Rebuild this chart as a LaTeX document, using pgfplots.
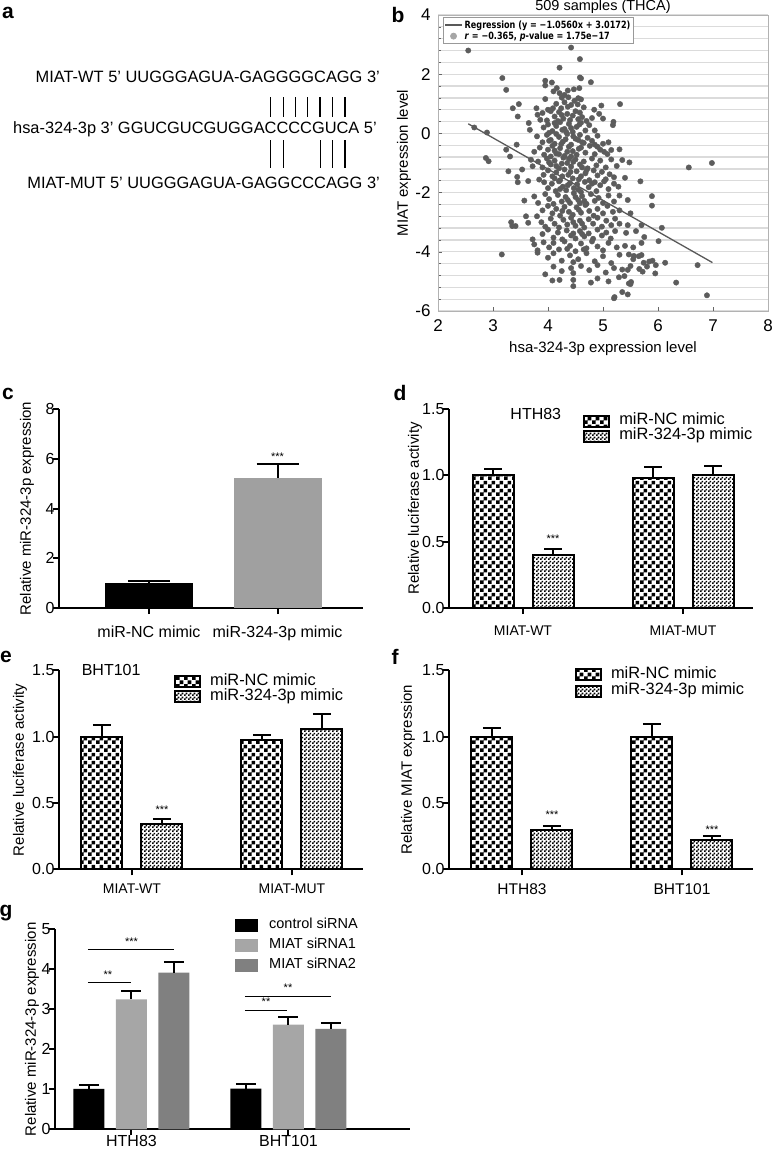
\documentclass[border=0pt]{standalone}
\usepackage{fontspec}
\setmainfont{Liberation Sans}
\newfontfamily\djv{DejaVu Sans}
\usepackage{pgfplots}
\pgfplotsset{compat=1.18}
\usetikzlibrary{patterns}
\newcommand{\fs}[1]{\fontsize{#1}{#1}\selectfont}
\pgfdeclarepatternformonly{bigcheck}{\pgfpointorigin}{\pgfqpoint{8pt}{8pt}}{\pgfqpoint{8pt}{8pt}}{%
  \pgfpathrectangle{\pgfpointorigin}{\pgfqpoint{4pt}{4pt}}%
  \pgfpathrectangle{\pgfqpoint{4pt}{4pt}}{\pgfqpoint{4pt}{4pt}}%
  \pgfusepath{fill}}
\pgfdeclarepatternformonly{smallcheck}{\pgfpointorigin}{\pgfqpoint{4pt}{4pt}}{\pgfqpoint{4pt}{4pt}}{%
  \pgfpathrectangle{\pgfpointorigin}{\pgfqpoint{2pt}{2pt}}%
  \pgfpathrectangle{\pgfqpoint{2pt}{2pt}}{\pgfqpoint{2pt}{2pt}}%
  \pgfusepath{fill}}
\definecolor{ptgray}{RGB}{92,92,92}
\definecolor{lgray}{RGB}{166,166,166}
\definecolor{dgray}{RGB}{128,128,128}
\definecolor{cgray}{RGB}{160,160,160}
\pgfplotsset{
  gp/.style={
    scale only axis, width=304pt, height=199pt,
    axis x line*=bottom, axis y line*=left,
    axis line style={line width=2pt, black},
    tick style={line width=2pt, black},
    major tick length=6pt, tick align=outside,
    xtick pos=bottom, ytick pos=left,
    ymin=0, enlargelimits=false, ybar, clip=false,
    /pgf/number format/assume math mode=true,
    yticklabel style={font=\fs{16}, xshift=5pt},
    xticklabel style={font=\fs{14}},
    label style={font=\fs{15}},
    error bars/error bar style={line width=2pt, black},
    error bars/error mark options={black, line width=2pt, mark size=9pt, rotate=90},
  },
  patlegend/.style={legend image code/.code={\draw[##1] (0pt,-5.5pt) rectangle (25pt,5.5pt); \path (34pt,0pt);}},
  glegend/.style={legend image code/.code={\fill[##1] (0pt,-6.5pt) rectangle (23pt,6.5pt); \path (34pt,0pt);}},
  ebp/.style={error bars/y dir=plus, error bars/y explicit},
  nc/.style={draw=black, line width=2pt, pattern=bigcheck, pattern color=black, patlegend, ebp},
  mm/.style={draw=black, line width=2pt, pattern=smallcheck, pattern color=black, patlegend, ebp},
}
\begin{document}
\begin{tikzpicture}
\path[use as bounding box] (0pt,0pt) rectangle (775pt,-1152pt);
% panel letters
\node[font=\bfseries\fs{21}] at (8pt,-13pt) {a};
\node[font=\bfseries\fs{21}] at (398pt,-15pt) {b};
\node[font=\bfseries\fs{21}] at (8pt,-394pt) {c};
\node[font=\bfseries\fs{21}] at (400pt,-393pt) {d};
\node[font=\bfseries\fs{21}] at (6pt,-657pt) {e};
\node[font=\bfseries\fs{21}] at (395pt,-657pt) {f};
\node[font=\bfseries\fs{21}] at (6pt,-913pt) {g};
% panel a
\node[font=\fs{16.4}, anchor=base east, inner sep=0pt] at (380pt,-82.9pt) {MIAT-WT 5’ UUGGGAGUA-GAGGGGCAGG 3’};
\node[font=\fs{16.4}, anchor=base east, inner sep=0pt] at (377pt,-133.9pt) {hsa-324-3p 3’ GGUCGUCGUGGACCCCGUCA 5’};
\node[font=\fs{16.4}, anchor=base east, inner sep=0pt] at (380pt,-188.9pt) {MIAT-MUT 5’ UUGGGAGUA-GAGGCCCAGG 3’};
\foreach \xx in {270.7,283.3,295.7,307.7,320,332.7,345} {\draw[line width=1.1pt] (\xx pt,-97pt) -- (\xx pt,-117pt);}
\foreach \xx in {270.7,283.3,320.7,332.7,345} {\draw[line width=1.1pt] (\xx pt,-140pt) -- (\xx pt,-168pt);}

% panel b
\begin{axis}[at={(438pt,-311pt)}, anchor=south west, scale only axis, width=330pt, height=296pt,
  xmin=2, xmax=8, ymin=-6, ymax=4, xtick={2,3,4,5,6,7,8}, ytick={-6,-4,-2,0,2,4},
  minor y tick num=4, ymajorgrids, yminorgrids,
  major grid style={line width=1.3pt, black!14}, minor grid style={line width=1.3pt, black!14},
  axis line style={black!30, line width=0.9pt},
  tick style={black!60, line width=0.6pt}, major tick length=4pt, minor tick length=3pt,
  xtick pos=bottom, ytick pos=left, tick align=inside,
  /pgf/number format/assume math mode=true,
  ticklabel style={font=\fs{17}},
  xticklabel style={yshift=-5pt}, yticklabel style={xshift=-4pt},
  every axis title shift=0pt,
  title={509 samples (THCA)}, title style={font=\fs{14.5}, inner sep=0pt, yshift=1pt},
  xlabel={hsa-324-3p expression level}, ylabel={MIAT expression level},
  label style={font=\fs{15}},
  xlabel style={at={(axis description cs:0.5,-0.128)}, anchor=center},
  ylabel style={at={(axis description cs:-0.103,0.5)}, anchor=center},
  legend style={at={(0.015,0.993)}, anchor=north west, draw=black!40, line width=0.8pt, fill=white,
    inner sep=1pt, row sep=-2pt, font=\djv\bfseries\fs{10}, legend cell align=left},
]
\addplot[only marks, mark=*, mark size=2.7pt, color=ptgray, forget plot] coordinates {
(2.55,2.80) (4.42,2.90) (4.58,2.51) (4.21,2.22) (6.56,-1.15) (6.98,-1.00)
(3.95,1.78) (4.07,1.72) (4.58,1.89) (4.60,1.86) (4.78,1.73) (3.17,1.87) (3.95,1.62)
(3.24,1.47) (3.95,1.16) (4.16,1.53) (4.21,1.36) (4.36,1.45) (4.47,1.49) (4.57,1.53) (4.25,1.21) (4.37,1.22) (4.55,1.19) (4.30,1.30) (4.10,1.42)
(3.36,0.85) (3.47,0.99) (3.79,0.85) (4.00,0.80) (4.09,0.85) (4.24,0.85) (4.42,0.96) (4.54,0.98) (4.84,0.80) (4.97,0.94) (5.31,0.99) (4.30,1.05) (4.65,0.88) (4.15,1.00) (4.48,1.10) (4.60,1.15) (4.36,0.90)
(3.45,0.57) (3.81,0.63) (3.86,0.46) (3.90,0.69) (3.98,0.44) (4.12,0.57) (4.20,0.72) (4.28,0.50) (4.35,0.66) (4.40,0.45) (4.50,0.75) (4.62,0.55) (4.70,0.42) (4.93,0.66) (4.45,0.60) (4.55,0.48) (4.05,0.75) (4.25,0.62) (5.00,0.50) (4.18,0.42) (4.58,0.70) (4.80,0.52)
(2.66,0.20) (2.89,0.03) (3.65,0.35) (3.67,0.12) (4.00,0.30) (4.08,0.08) (4.15,0.25) (4.22,0.38) (4.30,0.15) (4.38,0.32) (4.45,0.05) (4.52,0.22) (4.60,0.36) (4.68,0.10) (4.75,0.28) (5.19,0.39) (5.18,0.28) (4.85,0.10) (3.92,0.20) (4.33,0.05) (4.57,0.30) (4.12,0.35) (4.42,0.18) (4.02,0.02) (4.26,0.12)
(3.43,-0.38) (3.80,-0.10) (3.90,-0.30) (3.98,-0.05) (4.05,-0.22) (4.12,-0.35) (4.20,-0.12) (4.27,-0.28) (4.35,-0.02) (4.42,-0.38) (4.50,-0.18) (4.58,-0.05) (4.65,-0.32) (4.72,-0.15) (4.80,-0.25) (4.90,-0.08) (5.00,-0.35) (5.10,-0.30) (4.02,-0.25) (4.32,-0.20) (4.62,-0.30) (4.46,-0.10) (4.15,-0.02) (4.85,-0.38) (4.24,-0.36) (4.55,-0.22)
(3.24,-0.55) (3.31,-0.78) (3.75,-0.62) (3.85,-0.48) (3.93,-0.72) (4.00,-0.55) (4.08,-0.42) (4.15,-0.68) (4.22,-0.50) (4.30,-0.76) (4.38,-0.45) (4.45,-0.60) (4.52,-0.72) (4.60,-0.48) (4.68,-0.65) (4.76,-0.42) (4.85,-0.70) (4.95,-0.55) (5.02,-0.62) (5.15,-0.56) (5.30,-0.54) (5.08,-0.70) (4.20,-0.70) (4.12,-0.58) (4.42,-0.78) (4.56,-0.52) (4.35,-0.62) (4.05,-0.78) (4.90,-0.45)
(2.87,-0.83) (2.92,-0.94) (3.53,-1.22) (3.69,-0.89) (3.72,-1.11) (3.82,-0.95) (3.90,-1.15) (3.98,-0.85) (4.05,-1.05) (4.12,-0.92) (4.20,-1.18) (4.28,-0.82) (4.35,-1.00) (4.42,-1.12) (4.50,-0.88) (4.58,-1.05) (4.65,-0.95) (4.72,-1.18) (4.80,-0.85) (4.88,-1.08) (4.95,-0.92) (5.05,-1.15) (5.15,-0.88) (5.48,-0.98) (5.25,-1.10) (5.35,-0.90) (4.25,-1.02) (4.46,-0.96) (4.62,-1.15) (4.38,-0.86) (4.15,-1.10) (4.02,-0.98)
(3.28,-1.28) (3.44,-1.47) (3.84,-1.56) (4.00,-1.25) (4.08,-1.45) (4.15,-1.32) (4.22,-1.58) (4.30,-1.22) (4.37,-1.40) (4.45,-1.52) (4.52,-1.28) (4.60,-1.45) (4.68,-1.35) (4.75,-1.58) (4.83,-1.25) (4.90,-1.42) (4.98,-1.30) (5.05,-1.55) (5.12,-1.38) (5.20,-1.48) (5.40,-1.50) (4.26,-1.45) (4.41,-1.30) (4.56,-1.55) (4.12,-1.52) (4.70,-1.25) (3.92,-1.40)
(3.45,-1.65) (3.64,-1.61) (3.93,-1.65) (4.00,-1.85) (4.07,-1.70) (4.14,-1.95) (4.20,-1.62) (4.27,-1.80) (4.33,-1.92) (4.40,-1.68) (4.47,-1.85) (4.53,-1.72) (4.60,-1.98) (4.67,-1.64) (4.74,-1.82) (4.80,-1.70) (4.88,-1.95) (4.95,-1.75) (5.02,-1.62) (5.10,-1.88) (5.20,-1.70) (5.28,-1.80) (5.68,-1.62) (4.36,-1.75) (4.55,-1.90) (4.22,-1.88) (4.85,-1.65)
(3.57,-2.27) (3.75,-2.13) (3.82,-2.35) (3.95,-2.05) (4.02,-2.22) (4.10,-2.38) (4.18,-2.08) (4.25,-2.30) (4.32,-2.15) (4.40,-2.35) (4.47,-2.02) (4.55,-2.25) (4.62,-2.12) (4.70,-2.38) (4.78,-2.05) (4.85,-2.28) (4.92,-2.18) (5.00,-2.35) (5.10,-2.10) (5.20,-2.30) (5.30,-2.10) (5.45,-2.25) (5.89,-2.12) (4.36,-2.25) (4.58,-2.36) (4.50,-2.15) (4.66,-2.28)
(3.60,-2.80) (3.80,-2.80) (3.90,-2.60) (4.00,-2.45) (4.08,-2.70) (4.15,-2.55) (4.22,-2.78) (4.30,-2.48) (4.38,-2.65) (4.45,-2.75) (4.52,-2.50) (4.60,-2.68) (4.68,-2.42) (4.75,-2.62) (4.83,-2.78) (4.90,-2.55) (5.00,-2.70) (5.08,-2.45) (5.18,-2.65) (5.30,-2.60) (5.89,-2.44) (5.50,-2.70) (4.56,-2.58) (4.26,-2.62)
(3.33,-3.00) (3.35,-3.13) (3.41,-3.13) (3.64,-3.02) (3.88,-3.00) (3.95,-3.15) (4.05,-2.88) (4.12,-3.05) (4.20,-3.18) (4.28,-2.92) (4.35,-3.08) (4.42,-2.85) (4.50,-3.12) (4.58,-2.95) (4.66,-3.18) (4.74,-2.90) (4.82,-3.05) (4.90,-2.85) (4.98,-3.15) (5.06,-2.95) (5.15,-3.10) (5.22,-2.88) (5.30,-3.05) (5.45,-3.10) (6.07,-3.19) (5.70,-3.10) (4.62,-3.05) (4.46,-3.00)
(3.72,-3.58) (3.90,-3.40) (4.00,-3.25) (4.10,-3.52) (4.18,-3.35) (4.26,-3.58) (4.34,-3.28) (4.42,-3.45) (4.50,-3.55) (4.58,-3.30) (4.66,-3.48) (4.74,-3.38) (4.82,-3.56) (4.90,-3.25) (4.98,-3.45) (5.06,-3.35) (5.14,-3.55) (5.22,-3.30) (5.42,-3.36) (5.60,-3.30) (5.75,-3.50) (6.01,-3.64) (4.46,-3.38) (4.62,-3.40)
(3.75,-3.75) (3.81,-3.95) (3.92,-3.68) (4.02,-3.85) (4.10,-3.70) (4.20,-3.92) (4.30,-3.65) (4.40,-3.80) (4.50,-3.98) (4.60,-3.72) (4.70,-3.88) (4.80,-3.65) (4.90,-3.82) (5.00,-3.95) (5.10,-3.70) (5.25,-3.85) (5.40,-3.80) (5.55,-3.85) (5.70,-3.70) (4.35,-3.90) (4.65,-3.92)
(3.16,-4.09) (3.81,-4.03) (4.00,-4.20) (4.10,-4.05) (4.25,-4.30) (4.40,-4.12) (4.55,-4.25) (4.70,-4.05) (4.85,-4.32) (5.00,-4.15) (5.15,-4.38) (5.30,-4.10) (5.47,-4.09) (5.55,-4.25) (5.65,-4.15) (5.74,-4.37) (5.90,-4.30) (6.13,-4.37) (4.46,-4.35) (5.70,-4.11) (5.56,-4.14)
(3.95,-4.76) (4.10,-4.50) (4.25,-4.65) (4.42,-4.55) (4.46,-4.72) (4.60,-4.48) (4.75,-4.62) (4.90,-4.45) (5.05,-4.70) (5.20,-4.55) (5.35,-4.60) (5.50,-4.48) (5.66,-4.58) (5.80,-4.50) (5.96,-4.45) (6.72,-4.45) (5.84,-4.33) (5.72,-4.67) (5.45,-4.61)
(4.08,-4.97) (4.21,-4.95) (4.46,-5.16) (4.78,-5.04) (4.90,-4.90) (5.10,-5.00) (5.39,-4.82) (5.47,-5.07) (5.51,-5.02) (5.95,-4.73) (6.33,-5.04) (4.46,-4.95) (5.29,-4.86) (5.50,-5.09)
(5.21,-5.53) (5.35,-5.36) (5.45,-5.44) (6.89,-5.47) (5.20,-5.57)
};
\addplot[line width=1.3pt, color=black!65, forget plot] coordinates {(2.55,0.324) (6.99,-4.364)};
\addlegendimage{line width=1.3pt, color=black!65}
\addlegendentry{\scalebox{0.81}[1]{Regression (y = −1.0560x + 3.0172)}}
\addlegendimage{only marks, mark=*, mark size=3pt, color=black!35}
\addlegendentry{\scalebox{0.81}[1]{\textit{r} = −0.365, \textit{p}-value = 1.75e−17}}
\end{axis}

% panel c
\begin{axis}[gp, at={(59pt,-608pt)}, anchor=south west, xmin=-0.70, xmax=1.665, ymax=8,
  ytick={0,2,4,6,8}, xtick={0,1}, xticklabels={miR-NC mimic, miR-324-3p mimic},
  xticklabel style={font=\fs{16}, yshift=-8pt},
  ylabel={Relative miR-324-3p expression},
  ylabel style={at={(axis description cs:-0.105,0.5)}, anchor=center},
  error bars/error mark options={black, line width=2pt, mark size=21pt, rotate=90},
]
\addplot[fill=black, draw=none, bar width=88pt, bar shift=0pt, ebp] coordinates {(0,1.0) +- (0,0.09)};
\addplot[fill=cgray, draw=none, bar width=88pt, bar shift=0pt, ebp] coordinates {(1,5.23) +- (0,0.54)};
\node[font=\fs{11}] at (axis cs:1,6.08) {***};
\end{axis}

% panel d
\begin{axis}[gp, at={(449pt,-608pt)}, anchor=south west, xmin=-0.4625, xmax=1.4375, ymax=1.5,
  ytick={0,0.5,1,1.5}, yticklabel style={/pgf/number format/.cd, fixed, fixed zerofill, precision=1},
  xtick={0,1}, xticklabels={MIAT-WT, MIAT-MUT}, xticklabel style={font=\fs{14}, yshift=-8pt},
  ylabel={Relative luciferase activity},
  ylabel style={at={(axis description cs:-0.112,0.5)}, anchor=center},
  legend style={at={(0.441,0.978)}, anchor=north west, draw=none, fill=none, inner sep=0pt,
    font=\fs{16.4}, legend cell align=left, row sep=0pt,
    nodes={inner sep=0pt, text height=11pt, text depth=4pt}},
]
\addplot[nc, bar width=41pt, bar shift=-30pt] coordinates {(0,1.00) +- (0,0.045) (1,0.977) +- (0,0.086)};
\addplot[mm, bar width=41pt, bar shift=30pt] coordinates {(0,0.397) +- (0,0.05) (1,1.00) +- (0,0.07)};
\legend{miR-NC mimic, miR-324-3p mimic}
\node[font=\fs{11}, xshift=30pt] at (axis cs:0,0.52) {***};
\node[font=\fs{16}, anchor=center] at (axis cs:0.08,1.46) {HTH83};
\end{axis}

% panel e
\begin{axis}[gp, at={(59pt,-869.3pt)}, anchor=south west, xmin=-0.456, xmax=1.444, ymax=1.5,
  ytick={0,0.5,1,1.5}, yticklabel style={/pgf/number format/.cd, fixed, fixed zerofill, precision=1},
  xtick={0,1}, xticklabels={MIAT-WT, MIAT-MUT}, xticklabel style={font=\fs{14}, yshift=-5pt},
  ylabel={Relative luciferase activity},
  ylabel style={at={(axis description cs:-0.128,0.5)}, anchor=center},
  legend style={at={(0.378,0.982)}, anchor=north west, draw=none, fill=none, inner sep=0pt,
    font=\fs{16.4}, legend cell align=left, row sep=0pt,
    nodes={inner sep=0pt, text height=11pt, text depth=4pt}},
]
\addplot[nc, bar width=41pt, bar shift=-30pt] coordinates {(0,1.00) +- (0,0.09) (1,0.973) +- (0,0.04)};
\addplot[mm, bar width=41pt, bar shift=30pt] coordinates {(0,0.339) +- (0,0.037) (1,1.056) +- (0,0.114)};
\legend{miR-NC mimic, miR-324-3p mimic}
\node[font=\fs{11}, xshift=30pt] at (axis cs:0,0.45) {***};
\node[font=\fs{16}, anchor=center] at (axis cs:-0.13,1.5) {BHT101};
\end{axis}

% panel f
\begin{axis}[gp, at={(449pt,-869.3pt)}, anchor=south west, xmin=-0.456, xmax=1.444, ymax=1.5,
  ytick={0,0.5,1,1.5}, yticklabel style={/pgf/number format/.cd, fixed, fixed zerofill, precision=1},
  xtick={0,1}, xticklabels={HTH83, BHT101}, xticklabel style={font=\fs{15.5}, yshift=-5pt},
  ylabel={Relative MIAT expression},
  ylabel style={at={(axis description cs:-0.135,0.5)}, anchor=center},
  legend style={at={(0.414,1.016)}, anchor=north west, draw=none, fill=none, inner sep=0pt,
    font=\fs{16.4}, legend cell align=left, row sep=1.5pt,
    nodes={inner sep=0pt, text height=11pt, text depth=4pt}},
]
\addplot[nc, bar width=41pt, bar shift=-30pt] coordinates {(0,1.00) +- (0,0.065) (1,1.00) +- (0,0.095)};
\addplot[mm, bar width=41pt, bar shift=30pt] coordinates {(0,0.296) +- (0,0.034) (1,0.22) +- (0,0.033)};
\legend{miR-NC mimic, miR-324-3p mimic}
\node[font=\fs{11}, xshift=30pt] at (axis cs:0,0.41) {***};
\node[font=\fs{11}, xshift=30pt] at (axis cs:1,0.30) {***};
\end{axis}

% panel g
\begin{axis}[gp, at={(55pt,-1129.3pt)}, anchor=south west, width=355pt, height=200pt,
  xmin=-0.487, xmax=1.774, ymax=5, ytick={0,1,2,3,4,5},
  xtick={0,1}, xticklabels={HTH83, BHT101}, xticklabel style={font=\fs{16}, yshift=4pt},
  ylabel={Relative miR-324-3p expression},
  ylabel style={at={(axis description cs:-0.065,0.5)}, anchor=center},
  error bars/error mark options={black, line width=2pt, mark size=10pt, rotate=90},
  legend style={at={(0.507,1.07)}, anchor=north west, draw=none, fill=none, inner sep=0pt,
    font=\fs{14.5}, legend cell align=left, row sep=0pt,
    nodes={inner sep=0pt, text height=13pt, text depth=7pt}},
]
\addplot[fill=black, draw=none, glegend, bar width=31pt, bar shift=-42.5pt, ebp] coordinates {(0,1.01) +- (0,0.10) (1,1.02) +- (0,0.12)};
\addplot[fill=lgray, draw=none, glegend, bar width=31pt, bar shift=0pt, ebp] coordinates {(0,3.25) +- (0,0.21) (1,2.62) +- (0,0.19)};
\addplot[fill=dgray, draw=none, glegend, bar width=31pt, bar shift=42.5pt, ebp] coordinates {(0,3.92) +- (0,0.26) (1,2.51) +- (0,0.15)};
\legend{control siRNA, MIAT siRNA1, MIAT siRNA2}
\draw[line width=1.2pt] (axis cs:-0.277,4.5) -- (axis cs:0.271,4.5);
\node[font=\fs{11}] at (axis cs:0,4.69) {***};
\draw[line width=1.2pt] (axis cs:-0.277,3.665) -- (axis cs:-0.003,3.665);
\node[font=\fs{11}] at (axis cs:-0.15,3.86) {**};
\draw[line width=1.2pt] (axis cs:0.723,3.33) -- (axis cs:1.271,3.33);
\node[font=\fs{11}] at (axis cs:0.997,3.54) {**};
\draw[line width=1.2pt] (axis cs:0.723,2.98) -- (axis cs:0.99,2.98);
\node[font=\fs{11}] at (axis cs:0.857,3.19) {**};
\end{axis}
\end{tikzpicture}
\end{document}
